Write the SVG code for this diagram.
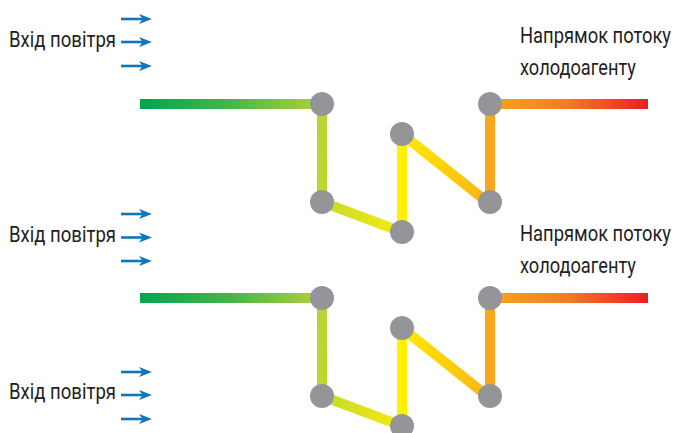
<svg xmlns="http://www.w3.org/2000/svg" width="675" height="433" viewBox="0 0 675 433">
<style>
  .lbl { font-family: Roboto, "Liberation Sans", sans-serif; font-size: 18px; fill: #231f20; }
  .pipe { fill: none; stroke-width: 10; stroke-linecap: butt; }
  .node { fill: #939598; }
  .air { stroke: #0f75bc; stroke-width: 2.6; fill: none; }
  .airhead { fill: #0f75bc; }
</style>
<defs>
  <linearGradient id="gGreen" gradientUnits="userSpaceOnUse" x1="140" y1="0" x2="322" y2="0">
    <stop offset="0" stop-color="#00a651"/>
    <stop offset="0.5" stop-color="#45b649"/>
    <stop offset="1" stop-color="#b3d235"/>
  </linearGradient>
  <linearGradient id="gLime" gradientUnits="userSpaceOnUse" x1="0" y1="104" x2="0" y2="202">
    <stop offset="0" stop-color="#b8d433"/>
    <stop offset="1" stop-color="#bfd730"/>
  </linearGradient>
  <linearGradient id="gLow" gradientUnits="userSpaceOnUse" x1="322" y1="0" x2="402" y2="0">
    <stop offset="0" stop-color="#c6da2e"/>
    <stop offset="1" stop-color="#f6eb0f"/>
  </linearGradient>
  <linearGradient id="gDiag" gradientUnits="userSpaceOnUse" x1="402" y1="134" x2="490" y2="202">
    <stop offset="0" stop-color="#ffec00"/>
    <stop offset="1" stop-color="#fbb316"/>
  </linearGradient>
  <linearGradient id="gRed" gradientUnits="userSpaceOnUse" x1="490" y1="0" x2="648" y2="0">
    <stop offset="0" stop-color="#f9a51b"/>
    <stop offset="0.5" stop-color="#f37a22"/>
    <stop offset="1" stop-color="#ed1c24"/>
  </linearGradient>
  <g id="coil">
    <path class="pipe" stroke="url(#gGreen)" d="M140,104 H322"/>
    <path class="pipe" stroke="url(#gLime)" d="M322,104 V202"/>
    <path class="pipe" stroke="url(#gLow)" d="M322,202 L402,232"/>
    <path class="pipe" stroke="#fff100" d="M402,232 V134"/>
    <path class="pipe" stroke="url(#gDiag)" d="M402,134 L496,209"/>
    <path class="pipe" stroke="#f9a81b" d="M490,202 V104"/>
    <path class="pipe" stroke="url(#gRed)" d="M490,104 H648"/>
  </g>
  <g id="arrow">
    <path class="air" d="M121,0 H143"/>
    <path class="airhead" d="M152,0 L139,-5 L142.5,0 L139,5 Z"/>
  </g>
</defs>

<g id="connectors">
  <use href="#coil"/>
  <use href="#coil" transform="translate(0,194)"/>
</g>

<g id="air-arrows">
  <use href="#arrow" transform="translate(0,19)"/>
  <use href="#arrow" transform="translate(0,42)"/>
  <use href="#arrow" transform="translate(0,66)"/>
  <use href="#arrow" transform="translate(0,214)"/>
  <use href="#arrow" transform="translate(0,237.5)"/>
  <use href="#arrow" transform="translate(0,261)"/>
  <use href="#arrow" transform="translate(0,372)"/>
  <use href="#arrow" transform="translate(0,395)"/>
  <use href="#arrow" transform="translate(0,419)"/>
</g>

<g id="node-t1"><circle class="node" cx="322" cy="104" r="12"/></g>
<g id="node-t2"><circle class="node" cx="322" cy="202" r="12"/></g>
<g id="node-t3"><circle class="node" cx="402" cy="232" r="12"/></g>
<g id="node-t4"><circle class="node" cx="402" cy="134" r="12"/></g>
<g id="node-t5"><circle class="node" cx="490" cy="202" r="12"/></g>
<g id="node-t6"><circle class="node" cx="490" cy="104" r="12"/></g>
<g id="node-b1"><circle class="node" cx="322" cy="298" r="12"/></g>
<g id="node-b2"><circle class="node" cx="322" cy="396" r="12"/></g>
<g id="node-b3"><circle class="node" cx="402" cy="426" r="12"/></g>
<g id="node-b4"><circle class="node" cx="402" cy="328" r="12"/></g>
<g id="node-b5"><circle class="node" cx="490" cy="396" r="12"/></g>
<g id="node-b6"><circle class="node" cx="490" cy="298" r="12"/></g>

<g id="labels">
  <text class="lbl" transform="translate(9,47) scale(1,1.2)" textLength="107" lengthAdjust="spacingAndGlyphs">Вхід повітря</text>
  <text class="lbl" transform="translate(9,242) scale(1,1.2)" textLength="107" lengthAdjust="spacingAndGlyphs">Вхід повітря</text>
  <text class="lbl" transform="translate(9,399) scale(1,1.2)" textLength="107" lengthAdjust="spacingAndGlyphs">Вхід повітря</text>
  <text class="lbl" transform="translate(520,43) scale(1,1.2)" textLength="151" lengthAdjust="spacingAndGlyphs">Напрямок потоку</text>
  <text class="lbl" transform="translate(520,75) scale(1,1.2)" textLength="116" lengthAdjust="spacingAndGlyphs">холодоагенту</text>
  <text class="lbl" transform="translate(520,241) scale(1,1.2)" textLength="151" lengthAdjust="spacingAndGlyphs">Напрямок потоку</text>
  <text class="lbl" transform="translate(520,273) scale(1,1.2)" textLength="116" lengthAdjust="spacingAndGlyphs">холодоагенту</text>
</g>
</svg>
